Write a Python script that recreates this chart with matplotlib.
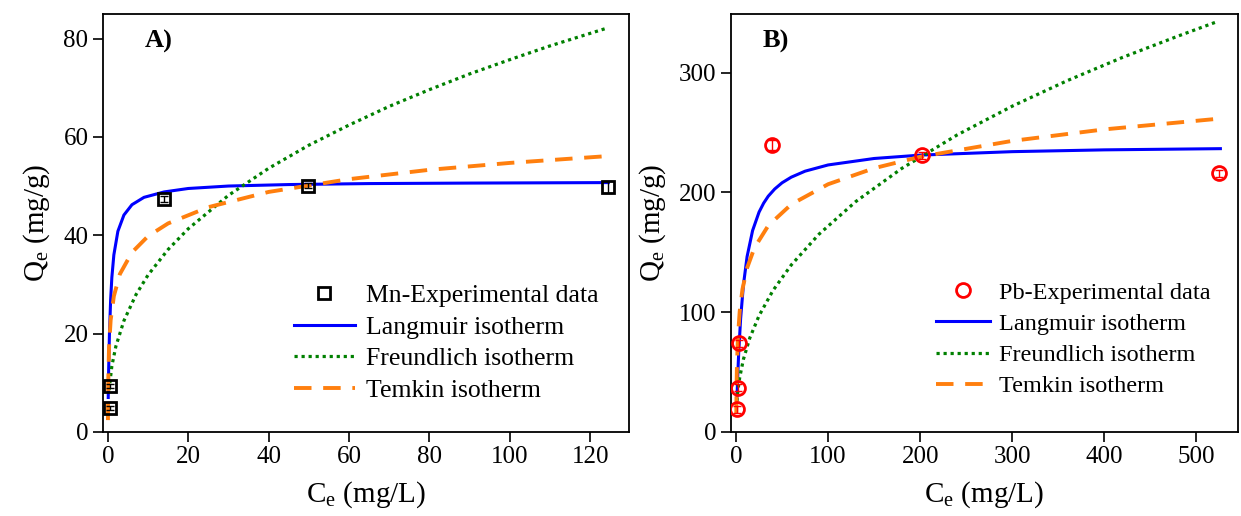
import matplotlib
matplotlib.use("Agg")
import matplotlib.pyplot as plt

plt.rcParams['font.family'] = ['Liberation Serif', 'DejaVu Serif']
plt.rcParams['mathtext.fontset'] = 'custom'
plt.rcParams['mathtext.rm'] = 'Liberation Serif'
plt.rcParams['mathtext.it'] = 'Liberation Serif:italic'

# ---- Panel A: Mn ----
mn_ce = [0.5, 0.5, 13.9, 49.8, 124.5]
mn_qe = [4.9, 9.3, 47.3, 50.1, 49.8]
mn_err = [0.4, 0.4, 0.6, 0.6, 1.3]

mn_lang_c = [0.1, 0.2, 0.4, 0.7, 1, 1.5, 2.5, 4, 6, 9, 14, 20, 30, 45, 65, 90, 124.5]
mn_lang_q = [7.0, 12.4, 19.9, 26.9, 31.4, 36.0, 40.8, 44.1, 46.2, 47.7, 48.8, 49.5,
             50.0, 50.3, 50.5, 50.6, 50.7]

mn_freu_c = [0.3, 1, 2, 4, 7, 10, 15, 20, 30, 40, 50, 60, 70, 80, 90, 100, 110, 124.5]
mn_freu_q = [8.5, 13.4, 17.4, 22.6, 27.9, 31.9, 37.1, 41.3, 48.1, 53.6, 58.3, 62.4,
             66.2, 69.6, 72.8, 75.7, 78.5, 82.2]

mn_temk_c = [0.03, 0.1, 0.3, 0.7, 1.5, 3, 6, 10, 15, 25, 40, 60, 80, 100, 124.5]
mn_temk_q = [2.4, 10.1, 17.2, 22.7, 27.6, 32.1, 36.5, 39.8, 42.4, 45.7, 48.8, 51.4,
             53.3, 54.7, 56.1]

# ---- Panel B: Pb ----
pb_ce = [1.5, 2.5, 3.5, 39, 202, 525]
pb_qe = [19, 37, 74, 239.7, 231, 216]
pb_err = [3, 3, 3, 4, 3, 3]

pb_lang_c = [1, 2, 3, 5, 8, 12, 18, 25, 30, 35, 42, 50, 60, 75, 100, 150, 200, 300,
             400, 526]
pb_lang_q = [27.6, 49.5, 67.3, 94.5, 122.4, 146.3, 168.1, 183.5, 191.0, 196.8, 202.8,
             208.0, 212.7, 217.7, 222.9, 228.3, 231.1, 234.0, 235.5, 236.5]

pb_freu_c = [1, 2, 4, 8, 15, 25, 40, 60, 90, 130, 180, 240, 300, 360, 420, 480, 523]
pb_freu_q = [25.5, 34.0, 45.3, 60.5, 78.5, 97.0, 117.9, 139.4, 165.0, 192.3, 220.0,
             247.9, 272.0, 293.4, 312.8, 330.5, 342.7]

pb_temk_c = [0.3, 0.6, 1, 2, 4, 7, 12, 20, 35, 60, 100, 150, 200, 300, 400, 524]
pb_temk_q = [15.1, 38.0, 54.8, 77.7, 100.6, 119.1, 136.8, 153.7, 172.2, 190.0, 206.8,
             220.2, 229.7, 243.0, 252.6, 261.5]


def draw_panel(ax, ce, qe, err, lc, lq, fc, fq, tc, tq, marker, mcolor, mlabel, msize):
    # error bars without legend entry, markers drawn separately for the legend
    ax.errorbar(ce, qe, yerr=err, fmt='none', ecolor=mcolor, elinewidth=1,
                capsize=3, zorder=5)
    ax.plot(ce, qe, marker, mfc='none', mec=mcolor, ms=msize, mew=2, label=mlabel,
            zorder=6)
    ax.plot(lc, lq, color='#0000ff', lw=2.2, label='Langmuir isotherm')
    ax.plot(fc, fq, color='#008000', lw=2.3, linestyle=(0, (1, 1.2)),
            label='Freundlich isotherm')
    ax.plot(tc, tq, color='#ff7f0e', lw=2.8, linestyle=(0, (4.5, 3)),
            label='Temkin isotherm')
    ax.set_xlabel('C$_\\mathregular{e}$ (mg/L)', fontsize=21, labelpad=8)
    ax.set_ylabel('Q$_\\mathregular{e}$ (mg/g)', fontsize=21, labelpad=8)
    ax.tick_params(labelsize=18, length=7, width=1.2, direction='out')
    for s in ax.spines.values():
        s.set_linewidth(1.3)


fig = plt.figure(figsize=(12.41, 5.16), dpi=100)
ax1 = fig.add_axes([0.083, 0.163, 0.424, 0.81])
ax2 = fig.add_axes([0.589, 0.163, 0.4085, 0.81])

draw_panel(ax1, mn_ce, mn_qe, mn_err, mn_lang_c, mn_lang_q, mn_freu_c, mn_freu_q,
           mn_temk_c, mn_temk_q, 's', 'black', 'Mn-Experimental data', 8)
ax1.set_xlim(-1.2, 129.7)
ax1.set_ylim(0, 85)
ax1.set_xticks(range(0, 121, 20))
ax1.set_yticks(range(0, 81, 20))
ax1.text(0.08, 0.933, 'A)', transform=ax1.transAxes, fontsize=19, fontweight='bold',
         va='center')
ax1.legend(loc='lower right', bbox_to_anchor=(0.985, 0.017), frameon=False,
           fontsize=18.5, handlelength=2.4, labelspacing=0.33, handletextpad=0.4)

draw_panel(ax2, pb_ce, pb_qe, pb_err, pb_lang_c, pb_lang_q, pb_freu_c, pb_freu_q,
           pb_temk_c, pb_temk_q, 'o', 'red', 'Pb-Experimental data', 10)
ax2.set_xlim(-5.5, 545)
ax2.set_ylim(0, 349)
ax2.set_xticks(range(0, 501, 100))
ax2.set_yticks(range(0, 301, 100))
ax2.text(0.063, 0.933, 'B)', transform=ax2.transAxes, fontsize=19, fontweight='bold',
         va='center')
ax2.legend(loc='lower right', bbox_to_anchor=(0.99, 0.03), frameon=False,
           fontsize=17.5, handlelength=2.2, labelspacing=0.38, handletextpad=0.4)

fig.savefig('out.png', dpi=100)
